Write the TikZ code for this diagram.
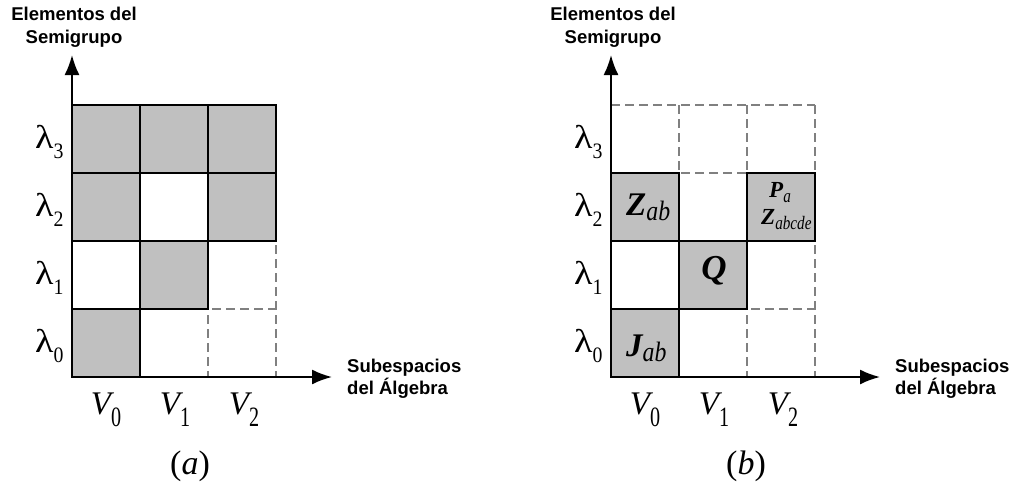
\documentclass[tikz,border=0pt]{standalone}
\usepackage{fontspec}
\usepackage{graphicx}
\setmainfont{Liberation Serif}
\newfontfamily\arialf{Liberation Sans}
\usetikzlibrary{arrows.meta}
\definecolor{cellgray}{HTML}{C0C0C0}
\definecolor{gridgray}{HTML}{808080}
\newcommand\lamlab[1]{{\fontsize{33}{33}\selectfont\scalebox{1.15}[1]{λ}}\raisebox{-10pt}{\fontsize{22}{22}\selectfont\scalebox{0.9}[1]{#1}}}
\newcommand\Vlab[1]{{\fontsize{33}{33}\selectfont\itshape V}\raisebox{-12pt}{\fontsize{28}{28}\selectfont\scalebox{0.72}[1]{#1}}}
\newcommand\bigsym[2]{{\fontsize{33}{33}\selectfont\bfseries\itshape #1}\raisebox{-5pt}{\fontsize{28}{28}\selectfont\itshape\scalebox{0.85}[1]{#2}}}
\newcommand\smallsym[2]{{\fontsize{23}{23}\selectfont\bfseries\itshape #1}\raisebox{-5pt}{\fontsize{19}{19}\selectfont\itshape\scalebox{0.8}[1]{#2}}}
\tikzset{
  axisline/.style={line width=2pt, -{Latex[length=20pt,width=15pt]}},
  cellg/.style={fill=cellgray, draw=black, line width=2pt},
  dgrid/.style={draw=gridgray, line width=1.5pt, dash pattern=on 9pt off 5pt},
  axlabel/.style={font=\arialf\bfseries\fontsize{18.5}{22}\selectfont, inner sep=0pt},
  txt/.style={inner sep=0pt},
  captxt/.style={inner sep=0pt, font=\fontsize{34}{34}\selectfont}
}
\begin{document}
\begin{tikzpicture}[x=1pt,y=-1pt]
\useasboundingbox (0,0) rectangle (1014,488);
% ---------------- panel (a) ----------------
\foreach \x in {140,208,276} \draw[dgrid] (\x,105) -- (\x,377);
\foreach \y in {105,173,241,309} \draw[dgrid] (72,\y) -- (276,\y);
\draw[cellg] (72,105) rectangle ++(68,68);
\draw[cellg] (140,105) rectangle ++(68,68);
\draw[cellg] (208,105) rectangle ++(68,68);
\draw[cellg] (72,173) rectangle ++(68,68);
\draw[cellg] (208,173) rectangle ++(68,68);
\draw[cellg] (140,241) rectangle ++(68,68);
\draw[cellg] (72,309) rectangle ++(68,68);
\coordinate (oa) at (72,377);
\coordinate (ya) at (72,55);
\coordinate (xa) at (332,377);
\draw[axisline] (oa) -- (ya);
\draw[axisline] (oa) -- (xa);
\node[axlabel, anchor=base] (ea1) at (74,20.5) {Elementos del};
\node[axlabel, anchor=base] (ea2) at (74,43) {Semigrupo};
\node[axlabel, anchor=base west] (sa1) at (347,372) {Subespacios};
\node[axlabel, anchor=base west] (sa2) at (347,394) {del Álgebra};
\node[txt, anchor=base west] (la3) at (35,148) {\lamlab{3}};
\node[txt, anchor=base west] (la2) at (35,216) {\lamlab{2}};
\node[txt, anchor=base west] (la1) at (35,284) {\lamlab{1}};
\node[txt, anchor=base west] (la0) at (35,352) {\lamlab{0}};
\node[txt, anchor=base] (va0) at (106,414) {\Vlab{0}};
\node[txt, anchor=base] (va1) at (175,414) {\Vlab{1}};
\node[txt, anchor=base] (va2) at (244,414) {\Vlab{2}};
\node[captxt, anchor=base] (capa) at (190,474) {(\textit{a})};
% ---------------- panel (b) ----------------
\foreach \x in {679,747,815} \draw[dgrid] (\x,105) -- (\x,377);
\foreach \y in {105,173,241,309} \draw[dgrid] (611,\y) -- (815,\y);
\draw[cellg] (611,173) rectangle ++(68,68);
\draw[cellg] (747,173) rectangle ++(68,68);
\draw[cellg] (679,241) rectangle ++(68,68);
\draw[cellg] (611,309) rectangle ++(68,68);
\coordinate (ob) at (611,377);
\coordinate (yb) at (611,55);
\coordinate (xb) at (880,377);
\draw[axisline] (ob) -- (yb);
\draw[axisline] (ob) -- (xb);
\node[axlabel, anchor=base] (eb1) at (613,20.5) {Elementos del};
\node[axlabel, anchor=base] (eb2) at (613,43) {Semigrupo};
\node[axlabel, anchor=base west] (sb1) at (895,372) {Subespacios};
\node[axlabel, anchor=base west] (sb2) at (895,394) {del Álgebra};
\node[txt, anchor=base west] (lb3) at (574,148) {\lamlab{3}};
\node[txt, anchor=base west] (lb2) at (574,216) {\lamlab{2}};
\node[txt, anchor=base west] (lb1) at (574,284) {\lamlab{1}};
\node[txt, anchor=base west] (lb0) at (574,352) {\lamlab{0}};
\node[txt, anchor=base] (vb0) at (645,414) {\Vlab{0}};
\node[txt, anchor=base] (vb1) at (714,414) {\Vlab{1}};
\node[txt, anchor=base] (vb2) at (783,414) {\Vlab{2}};
\node[captxt, anchor=base] (capb) at (746,474) {(\textit{b})};
\node[txt, anchor=base west] (zab) at (626,215) {\bigsym{Z}{ab}};
\node[txt, anchor=base] (q) at (714,279) {{\fontsize{35}{35}\selectfont\bfseries\itshape Q}};
\node[txt, anchor=base west] (jab) at (626,356) {\bigsym{J}{ab}};
\node[txt, anchor=base west] (pa) at (769,197) {\smallsym{P}{a}};
\node[txt, anchor=base west] (zabcde) at (761,224) {\smallsym{Z}{abcde}};
\end{tikzpicture}
\end{document}
